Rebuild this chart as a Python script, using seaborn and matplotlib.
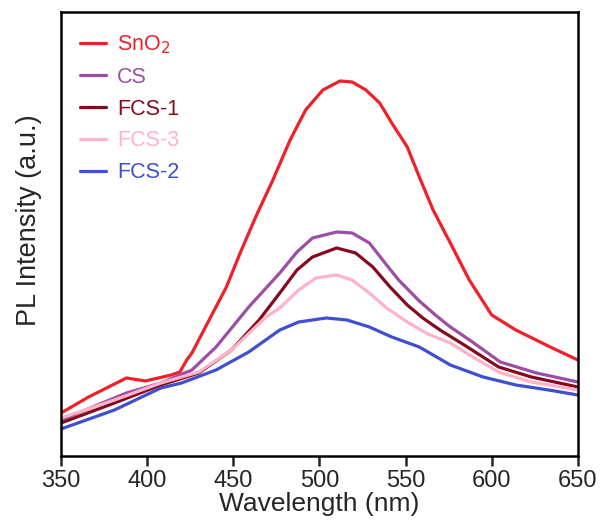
import pandas as pd
import matplotlib.pyplot as plt
import seaborn as sns

# PL spectra (arbitrary units)
wl_sno2 = [350, 366, 388, 399, 414, 419, 423, 426, 436, 446, 454, 463, 473, 483, 492,
           502, 512, 519, 527, 535, 542, 551, 558, 566, 576, 587, 600, 614, 634, 650]
pl_sno2 = [43, 59, 78, 75, 81, 84, 96, 103, 136, 169, 203, 239, 276, 316, 346,
           366, 375, 374, 366, 353, 333, 309, 279, 246, 213, 176, 141, 126, 109, 96]

wl_cs = [350, 388, 408, 426, 440, 459, 477, 487, 496, 510, 519, 529, 539, 546, 558,
         568, 576, 588, 605, 626, 650]
pl_cs = [36, 63, 73, 86, 109, 149, 183, 204, 218, 224, 223, 213, 191, 176, 155,
         140, 129, 115, 94, 83, 74]

wl_fcs1 = [350, 381, 408, 430, 449, 465, 477, 487, 496, 510, 521, 531, 541, 551, 560,
           570, 585, 604, 623, 650]
pl_fcs1 = [33, 53, 71, 83, 106, 136, 163, 186, 199, 208, 203, 189, 169, 151, 138,
           126, 110, 89, 79, 69]

wl_fcs3 = [350, 381, 408, 430, 449, 469, 477, 488, 498, 510, 519, 529, 539, 551, 563,
           576, 590, 604, 623, 650]
pl_fcs3 = [38, 56, 73, 84, 106, 139, 148, 166, 178, 181, 176, 163, 148, 134, 122,
           113, 98, 84, 74, 66]

wl_fcs2 = [350, 381, 408, 420, 440, 459, 477, 488, 504, 516, 529, 542, 558, 576, 595,
           614, 633, 650]
pl_fcs2 = [27, 46, 68, 73, 86, 104, 126, 134, 138, 136, 129, 119, 109, 91, 79,
           71, 66, 61]

labels = ['SnO$_2$', 'CS', 'FCS-1', 'FCS-3', 'FCS-2']
colors = ['#F0202A', '#9C4EA6', '#850A1E', '#FFB3C8', '#3E4FCF']


def main():
    sns.set_style('white')
    plt.rcParams['font.family'] = ['Liberation Sans', 'DejaVu Sans']

    series = [(wl_sno2, pl_sno2), (wl_cs, pl_cs), (wl_fcs1, pl_fcs1),
              (wl_fcs3, pl_fcs3), (wl_fcs2, pl_fcs2)]

    fig = plt.figure(figsize=(6, 5.21), dpi=100)
    ax = fig.add_axes([0.1017, 0.1248, 0.8613, 0.8522])

    for (x, y), lab, c in zip(series, labels, colors):
        df = pd.DataFrame({'wl': x, 'pl': y})
        sns.lineplot(data=df, x='wl', y='pl', ax=ax, color=c, lw=2.3,
                     label=lab, sort=False, estimator=None)

    ax.set_xlim(350, 650)
    ax.set_ylim(0, 444)
    ax.set_xticks(range(350, 651, 50))
    ax.set_yticks([])
    ax.set_xlabel('Wavelength (nm)', fontsize=19, labelpad=0)
    ax.set_ylabel('PL Intensity (a.u.)', fontsize=19.5)
    ax.yaxis.set_label_coords(-0.037, 0.53)
    ax.tick_params(axis='x', direction='out', length=7, width=1.8,
                   labelsize=17, pad=3, bottom=True)
    for s in ax.spines.values():
        s.set_linewidth(1.8)
        s.set_color('black')

    leg = ax.legend(loc='upper left', frameon=False, fontsize=15.5,
                    handlelength=1.2, handletextpad=0.5, labelspacing=0.5,
                    borderaxespad=0.5, bbox_to_anchor=(0.0, 0.995))
    for t, c in zip(leg.get_texts(), colors):
        t.set_color(c)

    fig.savefig('out.png', dpi=100)


if __name__ == "__main__":
    main()
